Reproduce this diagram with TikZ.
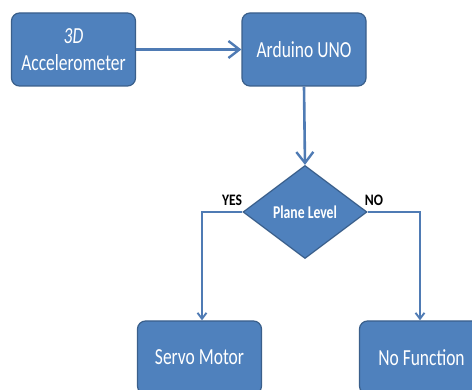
\documentclass[tikz,border=0pt]{standalone}
\usepackage{fontspec}
\setmainfont{Carlito}
\usetikzlibrary{arrows.meta,shapes.geometric}
\definecolor{boxfill}{RGB}{79,129,189}
\definecolor{boxline}{RGB}{58,95,139}
\definecolor{linkblue}{RGB}{79,123,180}
\newcommand\nar[1]{\scalebox{0.76}[1]{#1}}
\newcommand\narb[1]{\scalebox{0.85}[1]{#1}}
\tikzset{
  procbox/.style={draw=boxline, line width=1.2pt, fill=boxfill, rounded corners=8pt,
    minimum width=124pt, minimum height=73pt, inner sep=0pt, text=white,
    font=\fontsize{23}{27}\selectfont, align=center},
  decbox/.style={draw=boxline, line width=1.2pt, fill=boxfill, diamond, inner sep=0pt,
    minimum width=124pt, minimum height=93pt, text=white,
    font=\bfseries\fontsize{18}{20}\selectfont},
  link/.style={draw=linkblue, line width=2.6pt, -{Straight Barb[length=11pt,width=17pt,line width=2.4pt]}},
  thinlink/.style={draw=linkblue, line width=1.9pt, -{Straight Barb[length=6pt,width=9pt,line width=1.9pt]}},
  ans/.style={font=\bfseries\fontsize{16}{17}\selectfont, text=black, inner sep=0pt}
}
\begin{document}
\begin{tikzpicture}[x=1pt,y=-1pt]
\useasboundingbox (0,0) rectangle (472,390);
\clip (0,0) rectangle (472,390);
\node[procbox] (acc) at (73.5,49.5) {\nar{\itshape 3D}\\\nar{Accelerometer}};
\node[procbox] (ard) at (304,49.5) {\nar{Arduino UNO}};
\node[decbox] (lvl) at (305,212) {\nar{Plane Level}};
\node[procbox] (servo) at (199.5,357.5) {\nar{Servo Motor}};
\node[procbox] (nofn) at (421.5,357.5) {\nar{No Function}};
\node[ans] (yes) at (232,200) {\narb{YES}};
\node[ans] (no) at (374,200) {\narb{NO}};
\coordinate (lc) at (202,212);
\coordinate (rc) at (420,212);
\draw[link] (acc.east) -- (ard.west);
\draw[link] (ard.south) -- (lvl.north);
\draw[thinlink] (lvl.west) -- (lc) -- (servo.north -| lc);
\draw[thinlink] (lvl.east) -- (rc) -- (nofn.north -| rc);
\end{tikzpicture}
\end{document}
